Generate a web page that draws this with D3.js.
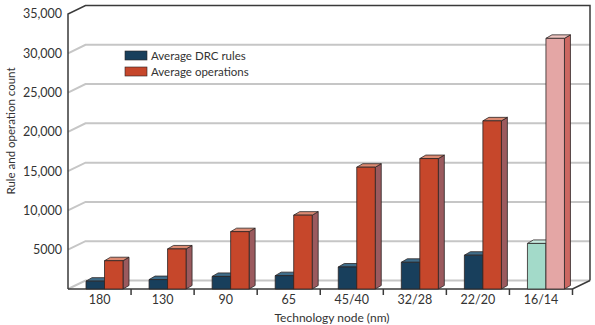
<!DOCTYPE html>
<html>
<head>
<meta charset="utf-8">
<script src="https://cdn.jsdelivr.net/npm/d3@7"></script>
<style>
  body { margin: 0; background: #fff; }
  text { font-family: Lato, "Open Sans", sans-serif; fill: #333; }
</style>
</head>
<body>
<svg width="595" height="325"></svg>
<script>
var categories = ["180", "130", "90", "65", "45/40", "32/28", "22/20", "16/14"];
var drcRules = [1000, 1200, 1600, 1700, 2800, 3400, 4300, 5800];
var operations = [3600, 5100, 7300, 9400, 15500, 16600, 21400, 31900];
var yTicks = [5000, 10000, 15000, 20000, 25000, 30000, 35000];

function main() {
    var svg = d3.select("svg");

    var left = 68, right = 572.5, bottom = 289, top = 14;
    var dx = 17.5, dy = -8.5;      // wall depth
    var bdx = 6, bdy = -3.5;       // bar depth

    var x = d3.scaleBand().domain(categories).range([left, right]);
    var y = d3.scaleLinear().domain([0, 35000]).range([bottom, top]);

    var line = d3.line();

    // gridlines on left wall and back wall
    var grid = svg.append("g");
    [0].concat(yTicks.slice(0, -1)).forEach(function(v) {
        grid.append("path")
            .attr("d", line([[left, y(v)], [left + dx, y(v) + dy], [right + dx, y(v) + dy]]))
            .attr("fill", "none")
            .attr("stroke", "#c6c6c6")
            .attr("stroke-width", 2);
    });

    // frame
    svg.append("path")
        .attr("d", line([[left, bottom], [left, y(35000)], [left + dx, y(35000) + dy],
                         [right + dx, y(35000) + dy], [right + dx, bottom + dy]]))
        .attr("fill", "none").attr("stroke", "#3a3a3a").attr("stroke-width", 1.5);
    svg.append("path")
        .attr("d", line([[left, bottom], [right, bottom], [right + dx, bottom + dy]]))
        .attr("fill", "none").attr("stroke", "#3a3a3a").attr("stroke-width", 1.5);

    // category ticks
    categories.forEach(function(c) {
        var xt = x(c) + x.bandwidth();
        svg.append("line")
            .attr("x1", xt).attr("x2", xt)
            .attr("y1", bottom).attr("y2", bottom + 6)
            .attr("stroke", "#3a3a3a").attr("stroke-width", 1.5);
    });

    var normal = { front: "#183f5c", top: "#3f6d8a", side: "#12314a" };
    var ops = { front: "#c6472b", top: "#dc8a72", side: "#9b5a5e" };
    var lastRules = { front: "#a3dac9", top: "#c8ebe0", side: "#7fb8a6" };
    var lastOps = { front: "#e4a6a5", top: "#f0c6c2", side: "#cc6862" };

    var bw = 18.5;

    function bar(x0, v, col) {
        var yt = y(v);
        var g = svg.append("g")
            .attr("stroke", "#2b2424").attr("stroke-width", 0.8).attr("stroke-linejoin", "round");
        g.append("path")
            .attr("d", line([[x0 + bw, yt], [x0 + bw + bdx, yt + bdy], [x0 + bw + bdx, bottom + bdy], [x0 + bw, bottom]]) + "Z")
            .attr("fill", col.side);
        g.append("path")
            .attr("d", line([[x0, yt], [x0 + bdx, yt + bdy], [x0 + bw + bdx, yt + bdy], [x0 + bw, yt]]) + "Z")
            .attr("fill", col.top);
        g.append("rect")
            .attr("x", x0).attr("y", yt)
            .attr("width", bw).attr("height", bottom - yt)
            .attr("fill", col.front);
    }

    categories.forEach(function(c, i) {
        var last = i === categories.length - 1;
        var x0 = x(c) + 18;
        bar(x0, drcRules[i], last ? lastRules : normal);
        bar(x0 + bw, operations[i], last ? lastOps : ops);
    });

    // y labels
    yTicks.forEach(function(v) {
        svg.append("text")
            .attr("x", 62).attr("y", y(v))
            .attr("dy", "0.35em")
            .attr("text-anchor", "end")
            .attr("font-size", 12.5)
            .text(v === 5000 ? "5000" : d3.format(",")(v));
    });

    // x labels
    categories.forEach(function(c) {
        svg.append("text")
            .attr("x", x(c) + x.bandwidth() / 2)
            .attr("y", 300).attr("dy", "0.35em")
            .attr("text-anchor", "middle")
            .attr("font-size", 12.5)
            .text(c);
    });

    svg.append("text")
        .attr("x", 332).attr("y", 318).attr("dy", "0.35em")
        .attr("text-anchor", "middle").attr("font-size", 12)
        .text("Technology node (nm)");

    svg.append("text")
        .attr("transform", "translate(11,131) rotate(-90)")
        .attr("dy", "0.35em")
        .attr("text-anchor", "middle").attr("font-size", 11.5)
        .text("Rule and operation count");

    // legend
    var legend = [["Average DRC rules", normal.front], ["Average operations", ops.front]];
    legend.forEach(function(d, i) {
        svg.append("rect")
            .attr("x", 125).attr("y", 51 + i * 16)
            .attr("width", 22).attr("height", 9)
            .attr("fill", d[1]).attr("stroke", "#2b2424").attr("stroke-width", 0.6);
        svg.append("text")
            .attr("x", 151).attr("y", 55.5 + i * 16).attr("dy", "0.35em")
            .attr("font-size", 11.5)
            .text(d[0]);
    });
}
main();
</script>
</body>
</html>
